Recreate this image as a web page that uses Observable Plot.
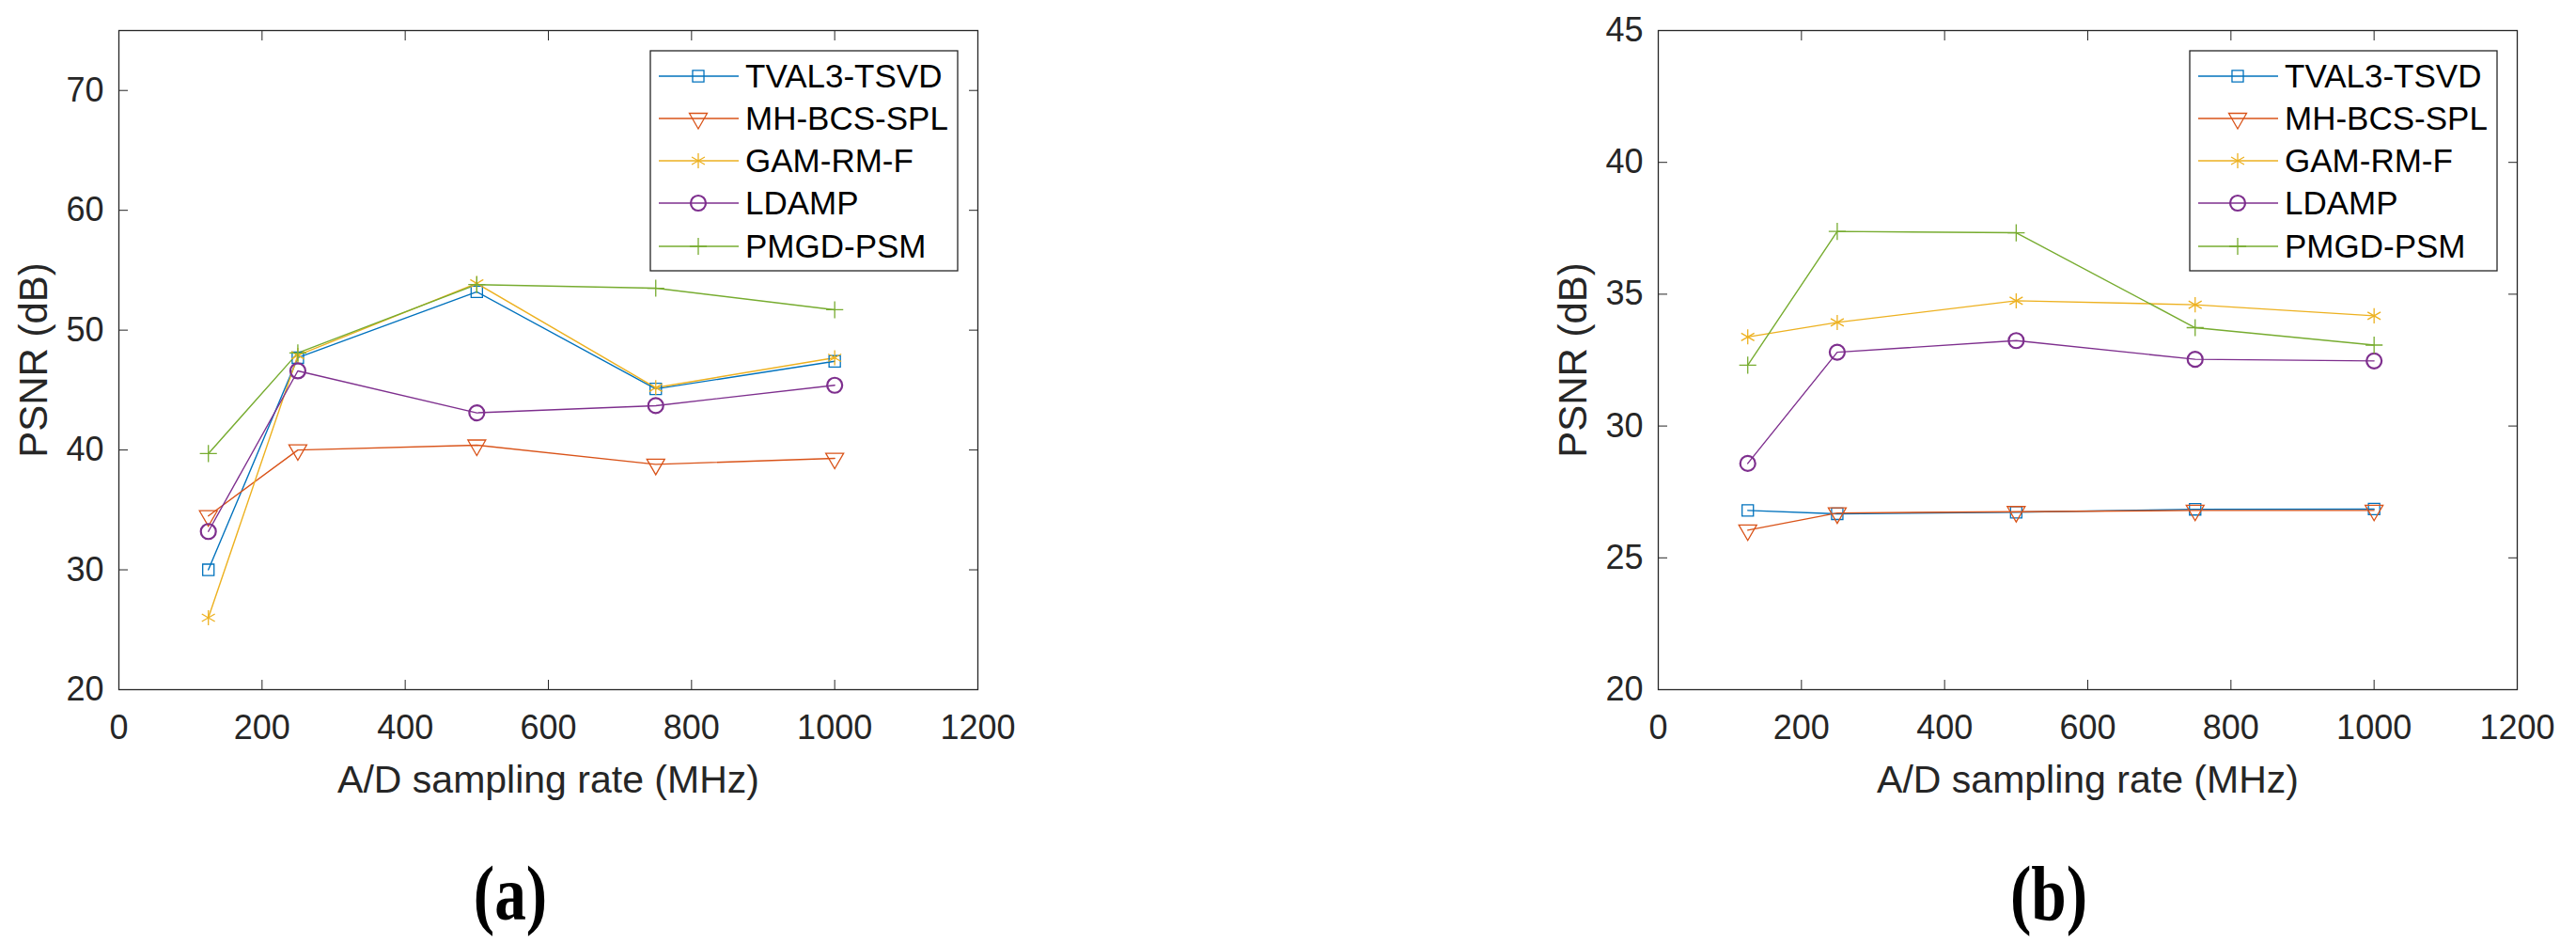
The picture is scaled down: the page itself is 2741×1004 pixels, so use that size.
<!DOCTYPE html>
<html>
<head>
<meta charset="utf-8">
<script src="https://cdn.jsdelivr.net/npm/d3@7"></script>
<script src="https://cdn.jsdelivr.net/npm/@observablehq/plot@0.6"></script>
<style>
  body { margin: 0; background: #fff; }
  #fig { position: relative; width: 2741px; height: 1004px; background: #fff; overflow: hidden; }
  .panel { position: absolute; top: 0; }
  .legend { position: absolute; }
  .caption { position: absolute; top: 910px; font-family: "Liberation Serif", "Times New Roman", serif; font-weight: bold; font-size: 82px; line-height: 82px; color: #000; transform: translateX(-50%) scaleX(0.82); white-space: nowrap; }
</style>
</head>
<body>
<div id="fig"></div>
<script>
// ---------- data ----------
const rates = [125, 250, 500, 750, 1000];
const methods = ["TVAL3-TSVD", "MH-BCS-SPL", "GAM-RM-F", "LDAMP", "PMGD-PSM"];
const colors = ["#0072BD", "#D95319", "#EDB120", "#7E2F8E", "#77AC30"];
const xTicks = [0, 200, 400, 600, 800, 1000, 1200];

// panel (a)
const a_TVAL3 = [30.0, 47.7, 53.2, 45.1, 47.4];
const a_MHBCS = [34.5, 40.0, 40.4, 38.8, 39.3];
const a_GAM   = [26.0, 47.9, 53.9, 45.2, 47.7];
const a_LDAMP = [33.2, 46.6, 43.1, 43.7, 45.4];
const a_PMGD  = [39.7, 48.1, 53.8, 53.5, 51.7];
const a_yTicks = [20, 30, 40, 50, 60, 70];
const a_yDomain = [20, 75];

// panel (b)
const b_TVAL3 = [26.8, 26.67, 26.73, 26.84, 26.85];
const b_MHBCS = [26.05, 26.7, 26.75, 26.8, 26.8];
const b_GAM   = [33.38, 33.93, 34.75, 34.6, 34.18];
const b_LDAMP = [28.58, 32.8, 33.24, 32.53, 32.47];
const b_PMGD  = [32.31, 37.38, 37.33, 33.73, 33.07];
const b_yTicks = [20, 25, 30, 35, 40, 45];
const b_yDomain = [20, 45];

const xLabel = "A/D sampling rate (MHz)";
const yLabel = "PSNR (dB)";

// ---------- symbols ----------
const triDown = {
  draw(ctx, size) {
    const a = Math.sqrt(size * 4 / Math.sqrt(3));
    const h = a * Math.sqrt(3) / 2;
    ctx.moveTo(-a / 2, -h / 3);
    ctx.lineTo(a / 2, -h / 3);
    ctx.lineTo(0, 2 * h / 3);
    ctx.closePath();
  }
};
const markerStyles = [
  {symbol: "square", r: 6.8, sw: 1.3},
  {symbol: triDown, r: 7.05, sw: 1.3},
  {symbol: "asterisk", r: 7.6, sw: 1.3},
  {symbol: "circle", r: 8, sw: 2.2},
  {symbol: "plus", r: 5.9, sw: 1.3}
];

function toLong(seriesList) {
  return methods.flatMap((m, i) => rates.map((r, j) => ({method: m, rate: r, psnr: seriesList[i][j]})));
}

const fig = document.getElementById("fig");
const plain = d => String(d);

function makePanel(left, seriesList, yDomain, yTicks) {
  const data = toLong(seriesList);
  const marks = [
    Plot.frame({stroke: "#262626", strokeWidth: 1.3}),
    Plot.axisX({ticks: xTicks, tickSize: -10, tickPadding: 37, fontSize: 36, tickFormat: plain, label: null}),
    Plot.axisX({anchor: "top", ticks: xTicks, tickSize: -10, tickFormat: () => "", label: null}),
    Plot.axisY({ticks: yTicks, tickSize: -10, tickPadding: 26, fontSize: 36, tickFormat: plain, label: null}),
    Plot.axisY({anchor: "right", ticks: yTicks, tickSize: -10, tickFormat: () => "", label: null}),
    Plot.axisX({ticks: [], tickSize: 0, label: xLabel, labelArrow: "none", labelAnchor: "center", labelOffset: 109, fontSize: 41}),
    Plot.axisY({ticks: [], tickSize: 0, label: yLabel, labelArrow: "none", labelAnchor: "center", labelOffset: 106, fontSize: 42}),
    Plot.line(data, {x: "rate", y: "psnr", z: "method", stroke: "method", strokeWidth: 1.4})
  ];
  methods.forEach((m, i) => {
    const ms = markerStyles[i];
    marks.push(Plot.dot(data.filter(d => d.method === m), {
      x: "rate", y: "psnr", stroke: "method", fill: "none",
      symbol: ms.symbol, r: ms.r, strokeWidth: ms.sw
    }));
  });
  const svg = Plot.plot({
    width: 1100,
    height: 880,
    marginLeft: 126,
    marginRight: 60,
    marginTop: 32,
    marginBottom: 147,
    x: {domain: [0, 1200]},
    y: {domain: yDomain},
    color: {domain: methods, range: colors},
    style: {fontFamily: "'Liberation Sans', Arial, sans-serif", color: "#262626", background: "transparent", overflow: "visible"},
    marks
  });
  svg.classList.add("panel");
  svg.style.left = left + "px";
  fig.appendChild(svg);
}

function makeLegend(left, top) {
  const W = 327, H = 234;
  const rowsY = [27, 72, 117, 162, 208];
  const svg = d3.create("svg")
    .attr("class", "legend")
    .attr("width", W + 4).attr("height", H + 4)
    .style("left", (left - 2) + "px").style("top", (top - 2) + "px");
  const g = svg.append("g").attr("transform", "translate(2,2)");
  g.append("rect").attr("width", W).attr("height", H).attr("fill", "#fff").attr("stroke", "#262626").attr("stroke-width", 1.3);
  methods.forEach((m, i) => {
    const y = rowsY[i];
    const ms = markerStyles[i];
    g.append("line").attr("x1", 9).attr("x2", 94).attr("y1", y).attr("y2", y)
      .attr("stroke", colors[i]).attr("stroke-width", 1.4);
    if (ms.symbol === "circle") {
      g.append("circle").attr("cx", 51).attr("cy", y).attr("r", ms.r)
        .attr("fill", "none").attr("stroke", colors[i]).attr("stroke-width", ms.sw);
    } else {
      const type = ms.symbol === "square" ? d3.symbolSquare : ms.symbol === "asterisk" ? d3.symbolAsterisk : ms.symbol === "plus" ? d3.symbolPlus : ms.symbol;
      g.append("path").attr("transform", `translate(51,${y})`)
        .attr("d", d3.symbol().type(type).size(Math.PI * ms.r * ms.r)())
        .attr("fill", "none").attr("stroke", colors[i]).attr("stroke-width", ms.sw);
    }
    g.append("text").attr("x", 101).attr("y", y).attr("dy", "0.35em")
      .attr("font-family", "'Liberation Sans', Arial, sans-serif").attr("font-size", 35)
      .attr("fill", "#000").text(m);
  });
  fig.appendChild(svg.node());
}

function makeCaption(text, cx) {
  const d = document.createElement("div");
  d.className = "caption";
  d.style.left = cx + "px";
  d.textContent = text;
  fig.appendChild(d);
}

makePanel(0, [a_TVAL3, a_MHBCS, a_GAM, a_LDAMP, a_PMGD], a_yDomain, a_yTicks);
makePanel(1638, [b_TVAL3, b_MHBCS, b_GAM, b_LDAMP, b_PMGD], b_yDomain, b_yTicks);
makeLegend(692, 54);
makeLegend(2330, 54);
makeCaption("(a)", 543);
makeCaption("(b)", 2180);
</script>
</body>
</html>
